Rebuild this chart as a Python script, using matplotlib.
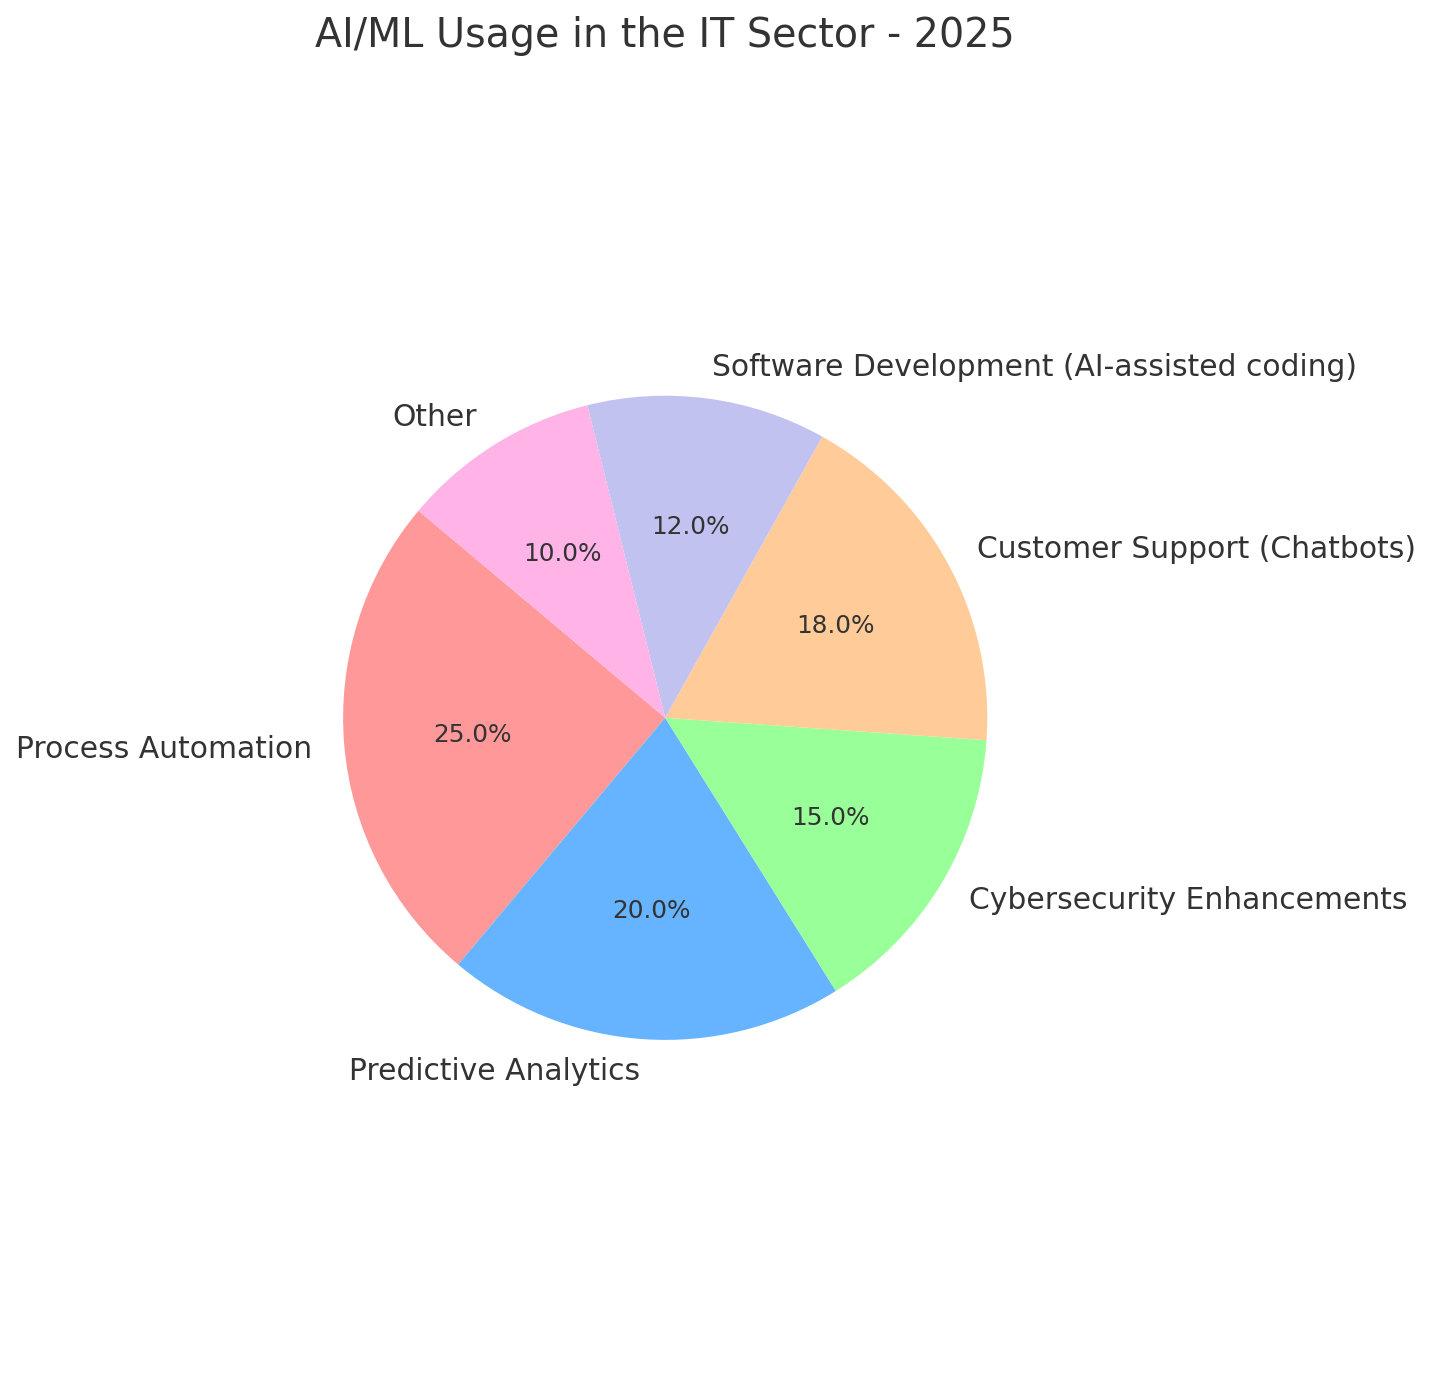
import matplotlib.pyplot as plt

# Data
labels = ['Process Automation', 'Predictive Analytics', 'Cybersecurity Enhancements',
          'Customer Support (Chatbots)', 'Software Development (AI-assisted coding)', 'Other']
sizes = [25, 20, 15, 18, 12, 10]
colors = ['#ff9999', '#66b3ff', '#99ff99', '#ffcc99', '#c2c2f0', '#ffb3e6']

DPI = 178.5
W, H = 1431, 1390
plt.rcParams['text.color'] = '#333333'

fig = plt.figure(figsize=((W + 0.4) / DPI, (H + 0.4) / DPI), dpi=DPI)

# Pie centre and radius in pixels
cx, cy, R = 665, 718, 322
side = 2.5 * R
ax = fig.add_axes([(cx - side / 2) / W, (H - cy - side / 2) / H, side / W, side / H])

ax.pie(sizes, labels=labels, colors=colors, autopct='%1.1f%%', startangle=140,
       textprops={'fontsize': 12})
for t in ax.texts:
    if t.get_text().endswith('%'):
        t.set_fontsize(10)
ax.set_aspect('equal')

fig.text(cx / W, 1 - 16 / H, 'AI/ML Usage in the IT Sector - 2025', fontsize=16,
         ha='center', va='top')

fig.savefig('out.png', dpi=DPI)
